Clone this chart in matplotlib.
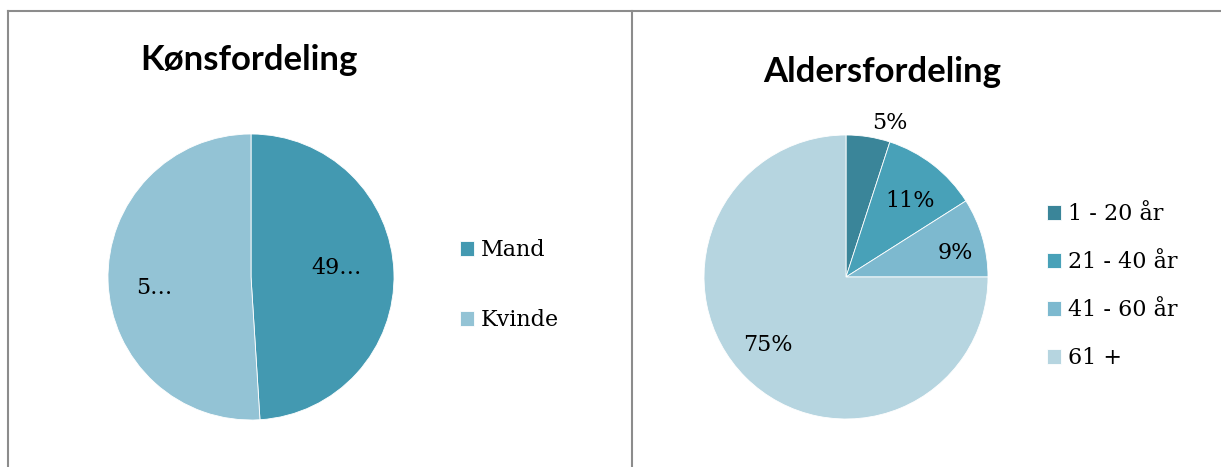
import matplotlib.pyplot as plt
import numpy as np
from matplotlib.lines import Line2D

# Kønsfordeling
kon_labels = ['Mand', 'Kvinde']
kon_values = [49, 51]
kon_texts = ['49…', '5…']
kon_colors = ['#4399b1', '#93c3d5']

# Aldersfordeling
alder_labels = ['1 - 20 år', '21 - 40 år', '41 - 60 år', '61 +']
alder_values = [5, 11, 9, 75]
alder_texts = ['5%', '11%', '9%', '75%']
alder_colors = ['#3a8599', '#48a1b8', '#7db9cf', '#b6d5e0']

W, H = 1221, 467
fig = plt.figure(figsize=(W / 100, H / 100), dpi=100)

serif = 'DejaVu Serif'
title_font = 'Lato'
fs = 16


def pie_axes(cx, cy, r):
    ax = fig.add_axes([(cx - r) / W, (H - cy - r) / H, 2 * r / W, 2 * r / H])
    return ax


def draw_pie(ax, values, colors, texts, dists):
    wedges, _ = ax.pie(values, colors=colors, startangle=90, counterclock=False,
                       radius=1, wedgeprops=dict(linewidth=0.6, edgecolor='white'))
    ax.set_xlim(-1, 1)
    ax.set_ylim(-1, 1)
    ax.axis('off')
    for w, t, d in zip(wedges, texts, dists):
        ang = np.deg2rad((w.theta1 + w.theta2) / 2)
        ax.text(d[0] * np.cos(ang + d[1]), d[0] * np.sin(ang + d[1]), t,
                ha='center', va='center', fontsize=fs, family=serif, color='black',
                clip_on=False)
    return wedges


# left pie
ax1 = pie_axes(251, 277, 143)
w1 = draw_pie(ax1, kon_values, kon_colors, kon_texts, [(0.6, 0.07), (0.68, 0.08)])

# right pie
ax2 = pie_axes(846, 277, 142)
w2 = draw_pie(ax2, alder_values, alder_colors, alder_texts,
              [(1.13, -0.12), (0.70, -0.04), (0.79, -0.07), (0.73, -0.07)])

# titles
fig.text(249 / W, 1 - 60 / H, 'Kønsfordeling', ha='center', va='center',
         fontsize=25, fontweight='bold', family=title_font)
fig.text(882 / W, 1 - 72 / H, 'Aldersfordeling', ha='center', va='center',
         fontsize=25, fontweight='bold', family=title_font)

# legends
fig.legend(w1, kon_labels, loc='center left', bbox_to_anchor=(440 / W, 1 - 285 / H),
           frameon=False, prop={'family': serif, 'size': fs}, handlelength=0.65,
           handleheight=0.65, handletextpad=0.3, labelspacing=2.17)
fig.legend(w2, alder_labels, loc='center left', bbox_to_anchor=(1027 / W, 1 - 286 / H),
           frameon=False, prop={'family': serif, 'size': fs}, handlelength=0.65,
           handleheight=0.65, handletextpad=0.3, labelspacing=1.17)

# box lines
line_kw = dict(color='#8c8c8c', linewidth=1.5, transform=fig.transFigure)
fig.add_artist(Line2D([8 / W, 1], [1 - 11 / H, 1 - 11 / H], **line_kw))
fig.add_artist(Line2D([8 / W, 8 / W], [0, 1 - 11 / H], **line_kw))
fig.add_artist(Line2D([632 / W, 632 / W], [0, 1 - 11 / H], **line_kw))

fig.savefig('out.png', dpi=100)
